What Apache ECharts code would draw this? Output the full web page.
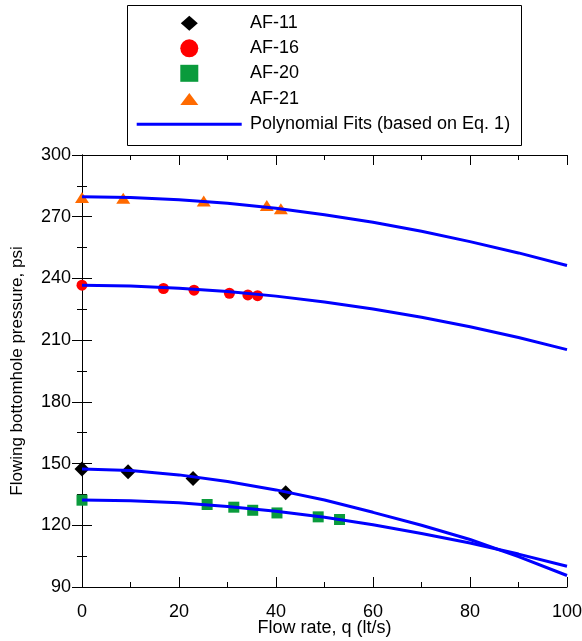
<!DOCTYPE html>
<html>
<head>
<meta charset="utf-8">
<script src="https://cdn.jsdelivr.net/npm/echarts@6/dist/echarts.min.js"></script>
<style>
html,body{margin:0;padding:0;background:#fff;}
#chart{width:582px;height:641px;}
</style>
</head>
<body>
<div id="chart"></div>
<script>
// ---- data ----
const xTicks = [0, 20, 40, 60, 80, 100];
const yTicks = [90, 120, 150, 180, 210, 240, 270, 300];

const af11 = [[0, 147.4], [9.5, 146.0], [22.9, 142.7], [42.0, 135.8]];
const af16 = [[0, 236.7], [16.8, 235.1], [23.1, 234.3], [30.4, 232.8], [34.2, 232.0], [36.2, 231.6]];
const af20 = [[0, 132.2], [25.8, 130.1], [31.3, 128.8], [35.2, 127.3], [40.2, 126.0], [48.7, 124.1], [53.1, 122.8]];
const af21 = [[0, 279.4], [8.5, 279.0], [25.1, 277.6], [38.1, 275.5], [41.0, 273.9]];

const fitQ = [0, 10, 20, 30, 40, 50, 60, 70, 80, 90, 100];
const fit11 = [147.4, 146.6, 144.5, 141.3, 137.2, 132.3, 126.3, 120.0, 113.1, 104.8, 95.6];
const fit16 = [236.7, 236.3, 235.2, 233.6, 231.4, 228.5, 225.1, 221.1, 216.5, 211.3, 205.4];
const fit20 = [132.3, 131.9, 130.9, 129.1, 126.8, 123.9, 120.3, 116.0, 111.4, 106.0, 100.1];
const fit21 = [279.7, 279.3, 278.2, 276.5, 274.1, 271.0, 267.3, 262.9, 257.9, 252.4, 246.3];

const fitName = 'Polynomial Fits (based on Eq. 1)';
const FONT = 'Liberation Sans';

function pairs(q, p) { return q.map((v, i) => [v, p[i]]); }

const chart = echarts.init(document.getElementById('chart'), null, {renderer: 'canvas'});

const axisCommon = {
  type: 'value',
  axisLine: {show: true, lineStyle: {color: '#000', width: 1}},
  axisTick: {show: true, inside: true, length: 10, lineStyle: {color: '#000'}},
  minorTick: {show: true, splitNumber: 2, length: 5, lineStyle: {color: '#000'}},
  splitLine: {show: false},
  minorSplitLine: {show: false},
  nameMoveOverlap: false
};

function xAxis(pos, labels) {
  return Object.assign({}, axisCommon, {
    position: pos, min: xTicks[0], max: xTicks[xTicks.length - 1],
    interval: xTicks[1] - xTicks[0],
    axisLabel: {show: labels, margin: 16, color: '#000', fontFamily: FONT, fontSize: 18},
    name: labels ? 'Flow rate, q (lt/s)' : '', nameLocation: 'middle', nameGap: 32,
    nameTextStyle: {color: '#000', fontFamily: FONT, fontSize: 18}
  });
}
function yAxis(pos, labels) {
  return Object.assign({}, axisCommon, {
    position: pos, min: yTicks[0], max: yTicks[yTicks.length - 1],
    interval: yTicks[1] - yTicks[0],
    axisLabel: {show: labels, margin: 11, color: '#000', fontFamily: FONT, fontSize: 18},
    name: labels ? 'Flowing bottomhole pressure, psi' : '', nameLocation: 'middle', nameGap: 56,
    nameTextStyle: {color: '#000', fontFamily: FONT, fontSize: 17}
  });
}

function legendItem(name, left, cy, w, h, padLeft, icon) {
  const item = icon ? {name: name, icon: icon} : name;
  return {
    data: [item], orient: 'horizontal', left: left, top: cy - 10, padding: 0,
    itemWidth: w, itemHeight: h, symbolKeepAspect: false, selectedMode: false,
    textStyle: {color: '#000', fontFamily: FONT, fontSize: 18, lineHeight: 20, padding: [0, 0, 0, padLeft]}
  };
}

const symbolCenterX = 189.3, textX = 250;
function markerLegend(name, cy, w, h) {
  const left = symbolCenterX - w / 2;
  return legendItem(name, left, cy, w, h, textX - left - w - 5);
}

const scatterBase = {type: 'scatter', xAxisIndex: 0, yAxisIndex: 0, z: 2};
const fitBase = {
  type: 'line', name: fitName, xAxisIndex: 0, yAxisIndex: 0, z: 3,
  showSymbol: false, symbol: 'none', smooth: false,
  lineStyle: {color: '#0000ff', width: 3}, itemStyle: {color: '#0000ff'},
  emphasis: {disabled: true}
};

chart.setOption({
  animation: false,
  backgroundColor: '#fff',
  grid: {left: 82, right: 15, top: 155, bottom: 54, containLabel: false, outerBoundsMode: 'none'},
  xAxis: [xAxis('bottom', true), xAxis('top', false)],
  yAxis: [yAxis('left', true), yAxis('right', false)],
  legend: [
    markerLegend('AF-11', 23.3, 17, 15),
    markerLegend('AF-16', 48.3, 18, 18),
    markerLegend('AF-20', 73.3, 18, 17),
    markerLegend('AF-21', 99, 18, 12),
    legendItem(fitName, 136.7, 124.3, 105, 3, 250 - 136.7 - 105 - 5, 'rect')
  ],
  graphic: [{
    type: 'rect', shape: {x: 127.5, y: 5.5, width: 394, height: 140},
    style: {fill: null, stroke: '#000', lineWidth: 1}, silent: true, z: 10
  }],
  series: [
    Object.assign({}, scatterBase, {name: 'AF-11', data: af11, symbol: 'diamond', symbolSize: [15, 15], itemStyle: {color: '#000000', opacity: 1}}),
    Object.assign({}, scatterBase, {name: 'AF-16', data: af16, symbol: 'circle', symbolSize: 11, itemStyle: {color: '#ff0000', opacity: 1}}),
    Object.assign({}, scatterBase, {name: 'AF-20', data: af20, symbol: 'rect', symbolSize: [11, 11], itemStyle: {color: '#0a9b3c', opacity: 1}}),
    Object.assign({}, scatterBase, {name: 'AF-21', data: af21, symbol: 'triangle', symbolSize: [14, 11], itemStyle: {color: '#ff6a00', opacity: 1}}),
    Object.assign({}, fitBase, {data: pairs(fitQ, fit11)}),
    Object.assign({}, fitBase, {data: pairs(fitQ, fit16)}),
    Object.assign({}, fitBase, {data: pairs(fitQ, fit20)}),
    Object.assign({}, fitBase, {data: pairs(fitQ, fit21)})
  ]
});
</script>
</body>
</html>
